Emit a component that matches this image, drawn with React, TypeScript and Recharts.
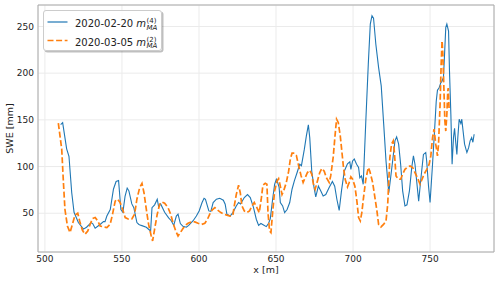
import React from 'react';
import { LineChart, Line, XAxis, YAxis, CartesianGrid, ReferenceArea } from 'recharts';

// 2020-02-20 m_MA^(4) profile
const febX = [
  510.2, 511.5, 514.1, 515.6, 517.4, 518.9, 521.7, 525.0, 527.0, 530.0, 531.0, 532.6, 535.8, 538.0, 539.0, 540.2,
  542.4, 544.5, 546.2, 547.8, 549.3, 550.6, 552.0, 553.4, 554.5, 556.4, 557.7, 559.7, 561.0, 562.5, 565.8, 568.6,
  569.5, 571.2, 572.9, 573.8, 575.1, 577.7, 580.3, 582.0, 583.6, 585.3, 586.4, 587.9, 589.6, 591.8, 593.3, 596.2,
  598.3, 600.1, 602.0, 603.3, 604.2, 606.4, 607.7, 609.2, 611.3, 613.5, 615.8, 617.0, 618.1, 620.2, 622.0, 624.2,
  625.7, 627.0, 629.4, 631.5, 633.3, 635.4, 637.2, 638.7, 640.2, 641.9, 643.7, 645.2, 646.3, 647.8, 649.1, 650.2,
  651.0, 652.0, 652.8, 654.3, 655.6, 657.2, 658.9, 660.4, 661.9, 663.7, 665.4, 666.5, 668.4, 669.7, 671.0, 671.9,
  673.2, 674.7, 675.8, 677.5, 679.0, 680.6, 682.3, 684.5, 686.6, 688.1, 689.5, 691.0, 692.5, 694.3, 696.4, 697.9,
  698.6, 699.7, 700.8, 702.3, 703.6, 704.4, 705.5, 706.6, 708.3, 709.9, 711.2, 712.3, 713.3, 714.8, 716.6, 718.3,
  719.9, 721.4, 723.2, 724.4, 725.7, 727.2, 728.3, 729.6, 730.9, 732.2, 733.7, 735.0, 736.6, 738.1, 739.2, 740.2,
  741.3, 742.6, 744.1, 745.7, 747.2, 747.8, 749.0, 750.0, 751.6, 752.9, 754.0, 754.8, 755.8, 757.0, 757.6, 758.7,
  759.4, 760.2, 760.9, 762.0, 762.6, 763.5, 764.3, 765.2, 765.9, 766.6, 767.4, 768.0, 768.9, 770.0, 770.6, 771.3,
  772.4, 773.9, 775.0, 776.0, 777.0, 777.8, 778.6,
];
const febSwe = [
  145, 147, 119, 111, 72, 51, 40, 33, 35, 40, 39, 34, 38, 41, 41, 47,
  54, 76, 84, 85, 54, 51, 68, 77, 74, 60, 56, 40, 38, 37, 35, 31,
  56, 59, 65, 57, 60, 51, 45, 42, 37, 47, 49, 39, 36, 35, 37, 42,
  47, 52.5, 61.5, 66, 65, 52.5, 52, 61.5, 65, 66, 64, 59.6, 49, 47, 50.7, 57.8,
  61.5, 60, 66.8, 70, 66.8, 56, 43.6, 37, 39, 37.5, 35.7, 39.3, 44.3, 65, 81, 86.4,
  83, 78, 61.5, 57.8, 50.7, 54, 61.5, 75.7, 84.6, 93.6, 102.5, 101, 118.6, 132.8, 144.6, 131,
  95, 77.5, 67.5, 79, 74, 68.5, 70, 77.5, 84, 79, 65, 53, 74, 95, 103, 105,
  97, 106, 108, 102.5, 99, 88, 90, 81, 149, 209.7, 252.6, 261.5, 259, 231, 206, 186.4,
  145.4, 106, 72, 88, 106, 127.5, 131.8, 124, 102.5, 74, 57.8, 59, 74, 99, 111.4, 102.5,
  84.6, 63, 88, 113, 115, 106, 79, 61.5, 102.5, 138, 170, 181.8, 184, 190, 191, 195.4,
  220, 249, 252.6, 245, 202.5, 156, 102.5, 131, 141, 127, 113, 131, 150.7, 146, 150.7, 140,
  124, 115, 120, 127.5, 131, 126, 134.6,
];

// 2020-03-05 m_MA^(2) profile
const marX = [
  508.7, 510.9, 512.0, 513.0, 514.6, 516.3, 517.8, 519.5, 521.3, 522.8, 524.3, 526.0, 527.8, 529.3, 530.9, 532.6,
  534.3, 535.8, 538.0, 540.2, 542.3, 543.9, 545.6, 547.1, 548.8, 550.4, 552.1, 554.3, 556.4, 558.2, 559.7, 561.5,
  563.0, 564.3, 565.8, 567.3, 569.0, 569.9, 571.2, 572.9, 574.5, 576.0, 577.7, 579.9, 581.6, 583.1, 584.9, 586.4,
  587.9, 589.6, 591.1, 592.9, 595.0, 597.3, 599.4, 601.6, 603.8, 605.5, 607.0, 608.5, 610.3, 612.0, 614.2, 616.3,
  618.1, 620.2, 622.0, 622.9, 624.2, 625.7, 626.8, 627.9, 629.4, 631.1, 632.8, 634.4, 635.9, 637.6, 639.1, 640.4,
  641.5, 643.0, 644.1, 644.8, 645.8, 646.7, 647.8, 649.1, 650.7, 651.7, 652.8, 653.9, 655.0, 656.7, 658.2, 659.3,
  660.4, 661.9, 663.2, 664.7, 666.3, 667.6, 668.9, 670.4, 671.9, 673.2, 674.3, 675.4, 676.9, 678.4, 679.7, 681.3,
  682.7, 684.5, 685.5, 687.1, 688.4, 689.3, 690.4, 691.7, 692.7, 693.8, 694.9, 696.4, 697.5, 698.6, 699.7, 701.2,
  702.5, 703.6, 704.7, 705.7, 706.8, 708.3, 709.9, 710.9, 712.7, 714.2, 715.5, 716.6, 718.1, 719.8, 721.4, 722.5,
  723.9, 725.0, 726.1, 726.8, 727.9, 729.4, 730.9, 732.2, 733.7, 735.0, 737.0, 738.7, 740.2, 741.8, 743.5, 744.8,
  746.1, 747.9, 749.4, 750.5, 751.6, 752.6, 753.7, 754.8, 755.5, 756.5, 757.2, 757.8, 758.3, 758.9, 759.6, 760.2,
  760.9, 761.5, 761.8, 762.4,
];
const marSwe = [
  146.5, 118.6, 83, 54, 36.4, 29.3, 38, 48, 50, 40, 32, 27.5, 31, 38, 44.3, 45.4,
  41.8, 36.4, 35.3, 34.7, 38, 49, 63, 65, 61.5, 54.3, 45.4, 43.6, 44, 49, 65, 77.5,
  82, 72, 54.3, 38, 25.7, 20.3, 33, 49, 59.6, 62, 60.7, 56, 49, 40, 31, 25.7,
  29.3, 33.6, 37, 39.3, 40.7, 40.7, 39.3, 38, 39.3, 43.6, 49, 53.5, 56, 53.5, 50.7, 49,
  48, 47, 48, 57.8, 70, 80, 72, 57.8, 52.5, 50.7, 52.5, 57.8, 61.5, 56, 50.7, 65,
  80, 82, 81, 50.7, 31, 29.3, 50.7, 74, 84.6, 87, 79, 70, 74, 83, 95, 108,
  114.3, 114.3, 112, 100.7, 90, 83, 88, 93.6, 96, 91.8, 81, 75.7, 84.6, 93.6, 98, 95,
  88, 83, 90, 109.7, 134.7, 150.7, 147.2, 133, 116.8, 99, 86.4, 78.2, 83, 89, 86.4, 79,
  63, 45.4, 41.8, 50.7, 66.8, 86.4, 99, 95, 83, 66.8, 52.5, 38, 35.3, 38, 41.8, 59.6,
  109.7, 124, 127.5, 116, 90, 86.4, 86.4, 91.8, 97, 99, 100.7, 99, 93.6, 88, 81, 86.4,
  91.8, 97, 102.5, 111.4, 131, 140, 124, 111.4, 124, 166.8, 209.7, 234.7, 220, 188, 149, 138,
  156, 181, 184, 159.6,
];

const xTicks = [500, 550, 600, 650, 700, 750];
const yTicks = [50, 100, 150, 200, 250];

const febData = febX.map((x, i) => ({ x, swe: febSwe[i] }));
const marData = marX.map((x, i) => ({ x, swe: marSwe[i] }));

const FONT = '"DejaVu Sans", sans-serif';
const X_DOMAIN: [number, number] = [495.5, 791.5];
const Y_DOMAIN: [number, number] = [8.5, 273];

const MathLabel = ({ date, sup }: { date: string; sup: string }) => (
  <span style={{ fontFamily: FONT, fontSize: 10, color: '#222', whiteSpace: 'nowrap' }}>
    {date} <i>m</i>
    <span
      style={{
        display: 'inline-flex',
        flexDirection: 'column',
        fontSize: 7,
        lineHeight: '6.5px',
        verticalAlign: '4px',
        marginLeft: 0.5,
      }}
    >
      <span>{sup}</span>
      <i>MA</i>
    </span>
  </span>
);

const LegendBox = () => (
  <div
    style={{
      position: 'absolute',
      left: 43,
      top: 10,
      width: 117,
      height: 39,
      border: '1px solid #cccccc',
      borderRadius: 3,
      background: 'rgba(255,255,255,0.85)',
      boxShadow: '1.5px 1.5px 0 rgba(0,0,0,0.25)',
    }}
  >
    <svg width={26} height={39} style={{ position: 'absolute', left: 0, top: 0 }}>
      <line x1={3.5} x2={23.5} y1={11} y2={11} stroke="#1f77b4" strokeWidth={1.2} />
      <line x1={3.5} x2={23.5} y1={29.5} y2={29.5} stroke="#ff7f0e" strokeWidth={1.7} strokeDasharray="6 2.6" />
    </svg>
    <div style={{ position: 'absolute', left: 31, top: 3, lineHeight: '15px' }}>
      <MathLabel date="2020-02-20" sup="(4)" />
    </div>
    <div style={{ position: 'absolute', left: 31, top: 21.5, lineHeight: '15px' }}>
      <MathLabel date="2020-03-05" sup="(2)" />
    </div>
  </div>
);

export default function App() {
  return (
    <div style={{ position: 'absolute', left: 0, top: 0, width: 500, height: 281, background: '#fff' }}>
      <LineChart width={500} height={281} margin={{ top: 5, right: 6, bottom: 0, left: 0 }}>
        <CartesianGrid stroke="#ebebeb" strokeWidth={1} />
        <XAxis
          dataKey="x"
          type="number"
          domain={X_DOMAIN}
          ticks={xTicks}
          allowDataOverflow
          height={29}
          tickLine={false}
          tickSize={0}
          tickMargin={4}
          axisLine={false}
          tick={{ fontSize: 9, fill: '#222', fontFamily: FONT }}
          label={{ value: 'x [m]', position: 'insideBottom', offset: 8, fontSize: 9.5, fill: '#222', fontFamily: FONT }}
        />
        <YAxis
          dataKey="swe"
          type="number"
          domain={Y_DOMAIN}
          ticks={yTicks}
          allowDataOverflow
          width={38}
          tickLine={false}
          tickSize={0}
          tickMargin={4}
          axisLine={false}
          tick={{ fontSize: 9, fill: '#222', fontFamily: FONT }}
          label={{
            value: 'SWE [mm]',
            angle: -90,
            position: 'insideLeft',
            offset: 10,
            fontSize: 9.5,
            fill: '#222',
            fontFamily: FONT,
            style: { textAnchor: 'middle' },
          }}
        />
        <Line
          data={febData}
          dataKey="swe"
          type="linear"
          stroke="#1f77b4"
          strokeWidth={1.1}
          dot={false}
          activeDot={false}
          isAnimationActive={false}
        />
        <Line
          data={marData}
          dataKey="swe"
          type="linear"
          stroke="#ff7f0e"
          strokeWidth={1.7}
          strokeDasharray="6 2.6"
          dot={false}
          activeDot={false}
          isAnimationActive={false}
        />
        <ReferenceArea
          x1={X_DOMAIN[0]}
          x2={X_DOMAIN[1]}
          y1={Y_DOMAIN[0]}
          y2={Y_DOMAIN[1]}
          fill="none"
          stroke="#aaaaaa"
          strokeWidth={1}
          ifOverflow="visible"
        />
      </LineChart>
      <LegendBox />
    </div>
  );
}
